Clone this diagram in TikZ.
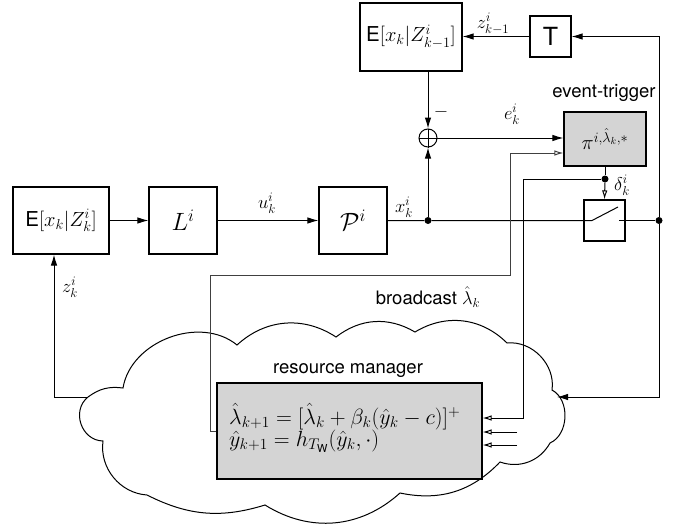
\RequirePackage{fix-cm}
\documentclass[tikz,border=0pt]{standalone}
\usepackage{amsmath}
\usepackage{fontspec}
\setmainfont{TeX Gyre Heros}
\setsansfont{TeX Gyre Heros}
\usetikzlibrary{arrows.meta,calc}
\begin{document}
\begin{tikzpicture}[x=1pt,y=-1pt,
  blk/.style={draw,line width=1.1pt,inner sep=0pt,font=\fontsize{20.5}{24}\selectfont},
  big/.style={font=\fontsize{25}{30}\selectfont},
  shaded/.style={fill=black!17},
  conn/.style={line width=1pt},
  arr/.style={-{Latex[length=11pt,width=6.5pt]}},
  oarr/.style={-{Latex[open,length=9pt,width=5.5pt]}},
  lbl/.style={inner sep=0pt,font=\fontsize{18.5}{22}\selectfont},
  dotn/.style={circle,fill,inner sep=0pt,minimum size=7pt},
  cloudline/.style={line width=1pt}]
\useasboundingbox (0,0) rectangle (687,527);

% cloud
\coordinate (c1) at (88,397);
\coordinate (c2) at (123,388);
\coordinate (c3) at (237,345);
\coordinate (c4) at (336,337);
\coordinate (c5) at (415,332);
\coordinate (c6) at (507,343);
\coordinate (c7) at (552,390);
\coordinate (c8) at (550,443);
\coordinate (c9) at (500,462);
\coordinate (c10) at (400,493);
\coordinate (c11) at (265,505);
\coordinate (c12) at (147,495);
\coordinate (c13) at (103,441);
\draw[cloudline] (c1) to[bend left=22] (c2) to[bend left=60] (c3)
  to[bend left=38] (c4) to[bend left=34] (c5) to[bend left=38] (c6)
  to[bend left=52] (c7) to[bend left=64] (c8) to[bend left=40] (c9)
  to[bend left=29] (c10) to[bend left=37] (c11) to[bend left=22] (c12)
  to[bend left=47] (c13) to[bend left=70,looseness=1.2] (c1);

% blocks
\node[blk,minimum width=96pt,minimum height=67pt] (el) at (61,220.5) {$\textsf{E}[x_k|Z^i_k]$};
\node[blk,big,minimum width=68pt,minimum height=67pt] (L) at (183,220.5) {$L^i$};
\node[blk,big,minimum width=68pt,minimum height=67pt] (P) at (353,220.5) {$\mathcal{P}^i$};
\node[blk,minimum width=102pt,minimum height=68pt] (et) at (411,37) {$\textsf{E}[x_k|Z^i_{k-1}]$};
\node[blk,big,minimum width=41pt,minimum height=41pt] (T) at (550.5,36.5) {\textsf{T}};
\node[draw,circle,line width=1pt,minimum size=18pt,inner sep=0pt] (sum) at (428,138) {};
\draw[conn] (sum.north) -- (sum.south) (sum.west) -- (sum.east);
\node[blk,shaded,minimum width=82pt,minimum height=54pt] (trig) at (605,139) {$\pi^{i,\hat\lambda_k,*}$};
\node[blk,minimum width=41pt,minimum height=41pt] (sw) at (604.5,220.5) {};
\node[blk,shaded,minimum width=265pt,minimum height=96pt] (rm) at (349.5,431) {};
\node[anchor=west,inner sep=0pt,align=left,font=\fontsize{22}{22}\selectfont] (f) at (229,428)
  {$\hat\lambda_{k+1} = [\hat\lambda_k + \beta_k(\hat y_k - c)]^+$\\
   $\hat y_{k+1} = h_{T_{\textsf{W}}}(\hat y_k,\cdot)$};

% dots and points
\node[dotn] (d1) at (428,220.5) {};
\node[dotn] (d2) at (659,220.5) {};
\node[dotn] (d3) at (605,179) {};
\coordinate (s1) at (592,220.5);
\coordinate (s2) at (618,207);
\coordinate (s3) at (619,220.5);
\coordinate (tr) at (659,36.5);
\coordinate (br) at (659,397);
\coordinate (cr) at (557,397);
\coordinate (zc) at (54,397);
\coordinate (dl) at (523,179);
\coordinate (dd) at (523,418);
\coordinate (i2) at (517,432);
\coordinate (i3) at (517,445);
\coordinate (b1) at (210,431);
\coordinate (b2) at (210,275);
\coordinate (b3) at (510,275);
\coordinate (b4) at (510,153);

% connectors
\draw[conn,arr] (el.east) -- (L.west);
\draw[conn,arr] (L.east) -- (P.west);
\draw[conn] (P.east) -- (d1) -- (s1) -- (s2);
\draw[conn] (s3) -- (d2);
\draw[conn,arr] (d1) -- (sum.south);
\draw[conn,arr] (et.south -| sum.north) -- (sum.north);
\draw[conn,arr] (sum.east) -- (sum.east -| trig.west);
\draw[conn,arr] (d2) -- (tr) -- (T.east);
\draw[conn,arr] (T.west) -- (T.west -| et.east);
\draw[conn,arr] (d2) -- (br) -- (cr);
\draw[conn] (trig.south) -- (d3);
\draw[conn,oarr] (d3) -- (sw.north);
\draw[conn,oarr] (d3) -- (dl) -- (dd) -- (dd -| rm.east);
\draw[conn,oarr] (i2) -- (i2 -| rm.east);
\draw[conn,oarr] (i3) -- (i3 -| rm.east);
\draw[conn,black!75,oarr] (rm.west |- b1) -- (b1) -- (b2) -- (b3) -- (b4) -- (b4 -| trig.west);
\draw[conn,arr] (c1) -- (zc) -- (zc |- el.south);

% labels
\node[lbl] (lu) at (267,203) {$u^i_k$};
\node[lbl] (lx) at (404,207) {$x^i_k$};
\node[lbl] (le) at (512,114) {$e^i_k$};
\node[lbl] (lm) at (441,112) {$-$};
\node[lbl] (lz1) at (493,24) {$z^i_{k-1}$};
\node[lbl] (lz) at (70,287) {$z^i_k$};
\node[lbl] (ld) at (622,185) {$\delta^i_k$};
\node[lbl] (lev) at (604,93) {event-trigger};
\node[lbl] (lbc) at (428,297) {broadcast $\hat\lambda_k$};
\node[lbl] (lrm) at (348,371) {resource manager};
\end{tikzpicture}
\end{document}
